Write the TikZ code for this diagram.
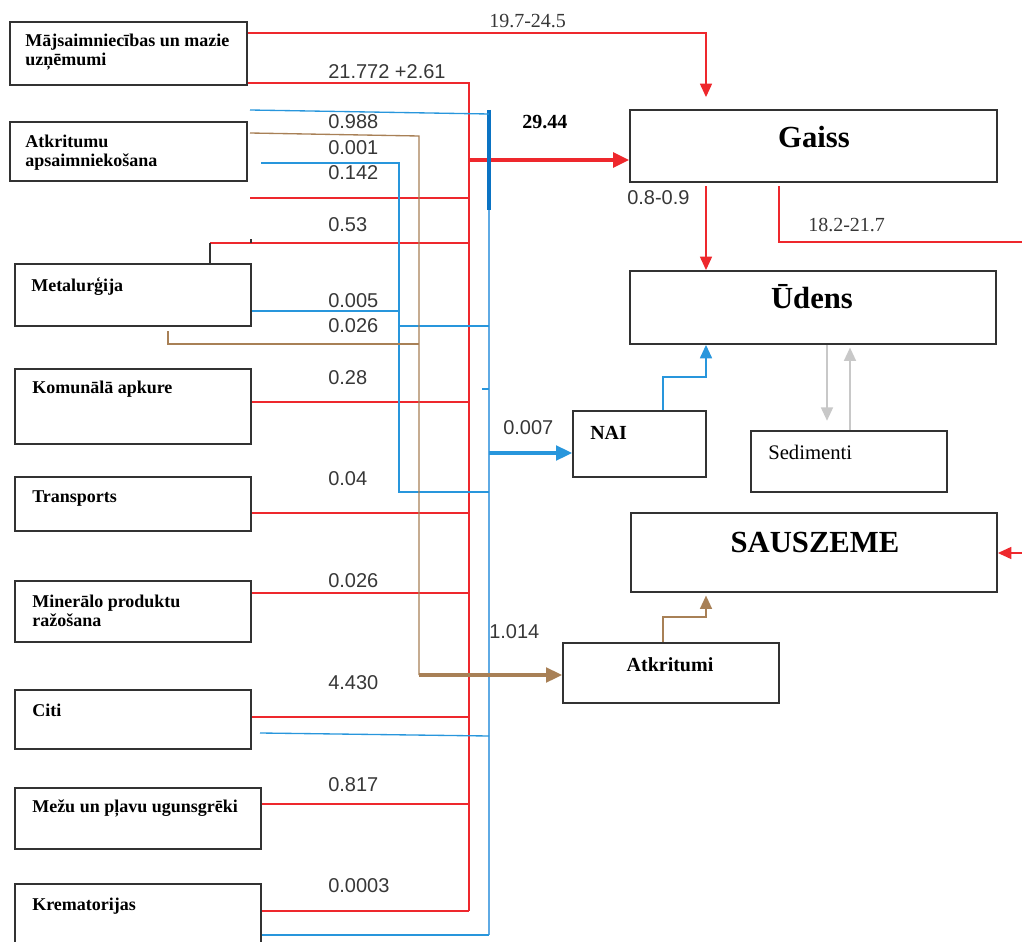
\documentclass[tikz,border=0pt]{standalone}
\usepackage{fontspec}
\setmainfont{Liberation Serif}
\newfontfamily\numfont{Liberation Sans}
\usetikzlibrary{arrows.meta,fit}
\definecolor{lred}{RGB}{238,40,45}
\definecolor{lblue}{RGB}{40,150,220}
\definecolor{dblue}{RGB}{10,115,195}
\definecolor{pblue}{RGB}{95,170,228}
\definecolor{lbrown}{RGB}{168,128,86}
\definecolor{lgrey}{RGB}{200,200,200}
\definecolor{boxc}{RGB}{50,50,50}
\definecolor{numc}{RGB}{55,55,55}
\begin{document}
\begin{tikzpicture}[x=0.75pt,y=-0.75pt,
  box/.style={draw=boxc, line width=1.4pt, inner sep=0pt},
  lbl/.style={font=\fontsize{13.5}{14.3}\selectfont\bfseries, anchor=west, inner sep=0pt, align=left},
  big/.style={font=\fontsize{23}{26}\selectfont\bfseries, inner sep=0pt},
  mid/.style={font=\fontsize{15}{18}\selectfont\bfseries, inner sep=0pt},
  num/.style={font=\numfont\fontsize{15}{18}\selectfont, anchor=west, inner sep=0pt, text=numc},
  snum/.style={font=\fontsize{15}{18}\selectfont, anchor=west, inner sep=0pt, text=numc},
  rl/.style={draw=lred, line width=1pt},
  bl/.style={draw=lblue, line width=1pt},
  brl/.style={draw=lbrown, line width=1pt},
  gl/.style={draw=lgrey, line width=1.2pt},
  tipA/.style={-{Triangle[length=10pt,width=9pt]}},
]
\useasboundingbox (0,0) rectangle (1022,942);

% ---- source boxes ----
\node[box, fit={(10,22) (247,85)}] (hh) {};
\node[lbl] (hht) at (25,52.5) {Mājsaimniecības un mazie\\uzņēmumi};
\node[box, fit={(10,122) (247,181)}] (atk) {};
\node[lbl] (atkt) at (25,152.5) {Atkritumu\\apsaimniekošana};
\node[box, fit={(15,264) (251,326)}] (met) {};
\node[lbl] (mett) at (31,287) {Metalurģija};
\node[box, fit={(15,369) (251,444)}] (kom) {};
\node[lbl] (komt) at (32,389) {Komunālā apkure};
\node[box, fit={(15,477) (251,531)}] (tr) {};
\node[lbl] (trt) at (32,499) {Transports};
\node[box, fit={(15,581) (251,642)}] (min) {};
\node[lbl] (mint) at (32,611) {Minerālo produktu\\ražošana};
\node[box, fit={(15,690) (251,749)}] (citi) {};
\node[lbl] (citit) at (32,710) {Citi};
\node[box, fit={(15,788) (261,849)}] (mezu) {};
\node[lbl] (mezut) at (32,808) {Mežu un pļavu ugunsgrēki};
\node[box, fit={(15,884) (261,948)}] (krem) {};
\node[lbl] (kremt) at (32,906) {Krematorijas};

% ---- target boxes ----
\node[box, fit={(630,110) (997,182)}] (gaiss) {};
\node[big] (gaisst) at (814,137) {Gaiss};
\node[box, fit={(630,271) (996,344)}] (udens) {};
\node[big] (udenst) at (812,297) {Ūdens};
\node[box, fit={(573,411) (706,477)}] (nai) {};
\node[mid, anchor=west] (nait) at (590,433) {NAI};
\node[box, fit={(751,431) (947,492)}] (sed) {};
\node[font=\fontsize{15.5}{18}\selectfont, anchor=west, inner sep=0pt] (sedt) at (768,452) {Sedimenti};
\node[box, fit={(631,513) (997,592)}] (saus) {};
\node[big] (saust) at (815,542) {SAUSZEME};
\node[box, fit={(563,643) (779,703)}] (atkr) {};
\node[mid] (atkrt) at (670,665) {Atkritumi};

% ---- bus coordinates ----
\coordinate (rtop) at (469,83);
\coordinate (rbot) at (469,911);
\coordinate (btop) at (489,110);
\coordinate (bmid) at (489,210);
\coordinate (bbot) at (489,935);
\coordinate (b2top) at (399,163);
\coordinate (b2bot) at (399,492);
\coordinate (brtop) at (419,136);
\coordinate (brbot) at (419,675);

% ---- red lines ----
\draw[rl, tipA] (hh.east |- 0,33) -- (706,33) -- ([yshift=9pt]gaiss.north -| 706,0);
\draw[rl] (hh.east |- rtop) -- (rtop) -- (rbot);
\draw[rl] (250,198) -- (469,198);
\draw[rl] (210,243) -- (469,243);
\draw[draw=boxc, line width=1.2pt] (met.north -| 210,0) -- (210,243);
\draw[draw=boxc, line width=0.8pt] (251,239) -- (251,243);
\draw[rl] (kom.east |- 0,402) -- (469,402);
\draw[rl] (tr.east |- 0,513) -- (469,513);
\draw[rl] (min.east |- 0,593) -- (469,593);
\draw[rl] (citi.east |- 0,717) -- (469,717);
\draw[rl] (mezu.east |- 0,804) -- (469,804);
\draw[rl] (krem.east |- rbot) -- (rbot);
\draw[draw=lred, line width=2.6pt, -{Triangle[length=12pt,width=11pt]}] (469,160) -- (gaiss.west |- 0,160);
\draw[rl, tipA] ([yshift=-2.5pt]gaiss.south -| 706,0) -- (udens.north -| 706,0);
\draw[rl] ([yshift=-2.5pt]gaiss.south -| 779,0) -- (779,242) -- (1022,242);
\draw[rl, tipA] (1022,553) -- (saus.east |- 0,553);

% ---- blue lines ----
\draw[draw=dblue, line width=2.4pt] (btop) -- (bmid);
\draw[draw=pblue, line width=1.8pt] (bmid) -- (bbot);
\draw[bl] (250,110) -- (489,114);
\draw[bl] (261,163) -- (b2top) -- (b2bot) -- (489,492);
\draw[bl] (met.east |- 0,311) -- (399,311);
\draw[bl] (399,326) -- (489,326);
\draw[bl] (482,389) -- (489,389);
\draw[draw=lblue, line width=2.4pt, -{Triangle[length=12pt,width=11pt]}] (489,453) -- (nai.west |- 0,453);
\draw[bl] (260,733) -- (489,736);
\draw[bl] (krem.east |- bbot) -- (bbot);
\draw[draw=lblue, line width=1.2pt, tipA] (nai.north -| 663,0) -- (663,377) -- (706,377) -- (udens.south -| 706,0);

% ---- brown lines ----
\draw[brl] (250,133) -- (brtop) -- (brbot);
\draw[brl] (168,331) -- (168,344) -- (419,344);
\draw[draw=lbrown, line width=2.4pt, -{Triangle[length=12pt,width=11pt]}] (brbot) -- (atkr.west |- brbot);
\draw[draw=lbrown, line width=1.2pt, tipA] (atkr.north -| 663,0) -- (663,617) -- (706,617) -- ([yshift=-2pt]saus.south -| 706,0);

% ---- grey ----
\draw[gl, tipA] (udens.south -| 827,0) -- ([yshift=7pt]sed.north -| 827,0);
\draw[gl, tipA] (sed.north -| 850,0) -- ([yshift=-2pt]udens.south -| 850,0);

% ---- numbers ----
\node[snum] (n1) at (489,21) {19.7-24.5};
\node[num] (n2) at (328,72) {21.772 +2.61};
\node[font=\fontsize{15}{18}\selectfont\bfseries, anchor=west, inner sep=0pt] (n3) at (522,122) {29.44};
\node[num] (n4) at (328,122) {0.988};
\node[num] (n5) at (328,148) {0.001};
\node[num] (n6) at (328,173) {0.142};
\node[num] (n7) at (328,225) {0.53};
\node[num] (n8) at (328,301) {0.005};
\node[num] (n9) at (328,326) {0.026};
\node[num] (n10) at (328,378) {0.28};
\node[num] (n11) at (328,479) {0.04};
\node[num] (n12) at (328,581) {0.026};
\node[num] (n13) at (328,683) {4.430};
\node[num] (n14) at (328,785) {0.817};
\node[num] (n15) at (328,886) {0.0003};
\node[num] (n16) at (627,198) {0.8-0.9};
\node[snum] (n17) at (808,225) {18.2-21.7};
\node[num] (n18) at (503,428) {0.007};
\node[num] (n19) at (489,632) {1.014};
\end{tikzpicture}
\end{document}
